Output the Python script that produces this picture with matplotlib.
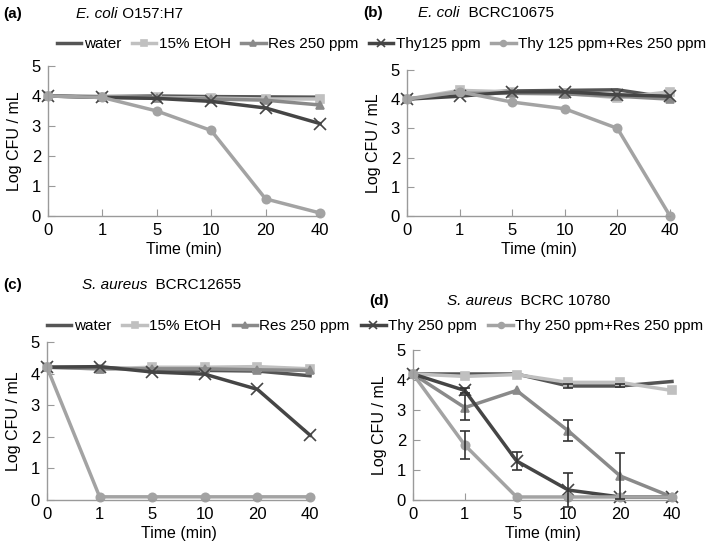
import numpy as np
import matplotlib
matplotlib.use("Agg")
import matplotlib.pyplot as plt

plt.rcParams['font.family'] = ['Liberation Sans', 'DejaVu Sans']

times = ["0", "1", "5", "10", "20", "40"]

# (a) E. coli O157:H7
a_water = [4.0, 3.98, 4.0, 3.98, 3.97, 3.96]
a_etoh = [4.0, 3.97, 3.95, 3.93, 3.9, 3.9]
a_res = [4.0, 3.96, 3.93, 3.9, 3.86, 3.7]
a_thy = [4.0, 3.95, 3.92, 3.82, 3.6, 3.08]
a_mix = [4.0, 3.95, 3.5, 2.85, 0.57, 0.1]

# (b) E. coli BCRC10675
b_water = [4.0, 4.2, 4.28, 4.3, 4.32, 4.05]
b_etoh = [4.0, 4.3, 4.25, 4.2, 4.05, 4.25]
b_res = [4.0, 4.2, 4.2, 4.18, 4.1, 4.0]
b_thy = [4.0, 4.1, 4.25, 4.25, 4.15, 4.1]
b_mix = [4.0, 4.25, 3.9, 3.67, 3.0, 0.0]

# (c) S. aureus BCRC12655
c_water = [4.2, 4.2, 4.12, 4.1, 4.08, 3.93]
c_etoh = [4.2, 4.15, 4.2, 4.2, 4.22, 4.15]
c_res = [4.2, 4.15, 4.15, 4.15, 4.12, 4.1]
c_thy = [4.2, 4.22, 4.05, 3.98, 3.5, 2.05]
c_mix = [4.2, 0.1, 0.1, 0.1, 0.1, 0.1]

# (d) S. aureus BCRC 10780
d_water = [4.2, 4.2, 4.2, 3.8, 3.8, 3.95]
d_etoh = [4.2, 4.12, 4.18, 3.92, 3.92, 3.65]
d_res = [4.2, 3.08, 3.65, 2.3, 0.8, 0.1]
d_thy = [4.2, 3.65, 1.3, 0.33, 0.1, 0.1]
d_mix = [4.2, 1.83, 0.1, 0.1, 0.1, 0.1]
d_water_err = [0, 0, 0, 0.08, 0.05, 0]
d_res_err = [0, 0.42, 0, 0.35, 0.77, 0]
d_thy_err = [0, 0.08, 0.3, 0.58, 0, 0]
d_mix_err = [0, 0.47, 0, 0, 0, 0]

top_labels = ["water", "15% EtOH", "Res 250 ppm", "Thy125 ppm", "Thy 125 ppm+Res 250 ppm"]
bot_labels = ["water", "15% EtOH", "Res 250 ppm", "Thy 250 ppm", "Thy 250 ppm+Res 250 ppm"]

colors = ["#555555", "#c0c0c0", "#8a8a8a", "#454545", "#a3a3a3"]
markers = [None, "s", "^", "x", "o"]
msizes = [0, 6, 6, 8, 6]

fig = plt.figure(figsize=(7.09, 5.49), dpi=100)
ax_a = fig.add_axes([0.0677, 0.6066, 0.3836, 0.2732])
ax_b = fig.add_axes([0.574, 0.6066, 0.371, 0.266])
ax_c = fig.add_axes([0.0663, 0.0893, 0.371, 0.2878])
ax_d = fig.add_axes([0.5825, 0.0893, 0.3653, 0.2732])

x = np.arange(len(times))


def draw(ax, series, labels):
    lines = []
    for s, lab, c, m, ms in zip(series, labels, colors, markers, msizes):
        ln, = ax.plot(x, s, color=c, lw=2.5, marker=m, ms=ms, mew=1.2,
                      label=lab, clip_on=False)
        lines.append(ln)
    ax.set_xlim(0, 5)
    ax.set_ylim(0, 5)
    ax.set_xticks(x)
    ax.set_xticklabels(times)
    ax.set_yticks(range(6))
    for sp in ["top", "right"]:
        ax.spines[sp].set_visible(False)
    for sp in ["left", "bottom"]:
        ax.spines[sp].set_color("#9a9a9a")
        ax.spines[sp].set_linewidth(1.0)
    ax.tick_params(direction="in", length=5, color="#9a9a9a", labelsize=12, pad=5)
    ax.set_xlabel("Time (min)", fontsize=11.5, labelpad=3)
    ax.set_ylabel("Log CFU / mL", fontsize=11.5, labelpad=7)
    return lines


top_lines = draw(ax_a, [a_water, a_etoh, a_res, a_thy, a_mix], top_labels)
draw(ax_b, [b_water, b_etoh, b_res, b_thy, b_mix], top_labels)
draw(ax_c, [c_water, c_etoh, c_res, c_thy, c_mix], bot_labels)
bot_lines = draw(ax_d, [d_water, d_etoh, d_res, d_thy, d_mix], bot_labels)

for s, e in [(d_water, d_water_err), (d_res, d_res_err), (d_thy, d_thy_err), (d_mix, d_mix_err)]:
    s = np.array(s)
    e = np.array(e)
    m = e > 0
    ax_d.errorbar(x[m], s[m], yerr=e[m], fmt="none", ecolor="#333333",
                  elinewidth=1.2, capsize=3.5, capthick=1.2, clip_on=False, zorder=3)

fig.legend(handles=top_lines, loc="center", bbox_to_anchor=(0.538, 0.92), ncol=5,
           frameon=False, fontsize=11, handlelength=1.6, handletextpad=0.15,
           columnspacing=0.7, borderaxespad=0, borderpad=0, markerscale=0.7)
fig.legend(handles=bot_lines, loc="center", bbox_to_anchor=(0.529, 0.406), ncol=5,
           frameon=False, fontsize=11, handlelength=1.6, handletextpad=0.15,
           columnspacing=0.75, borderaxespad=0, borderpad=0, markerscale=0.7)


def make_title(lx, px, py, lab, ital, rest):
    fy = 1 - py / 549
    fig.text(lx / 709, fy, lab, fontsize=11, fontweight="bold", va="center")
    t = fig.text(px / 709, fy, ital, fontsize=11, style="italic", va="center")
    fig.canvas.draw()
    bb = t.get_window_extent()
    fig.text(bb.x1 / fig.bbox.width, fy, rest, fontsize=11, va="center")


make_title(3, 76, 14, "(a)", "E. coli", " O157:H7")
make_title(363, 418, 13, "(b)", "E. coli", "  BCRC10675")
make_title(3, 82, 285, "(c)", "S. aureus", "  BCRC12655")
make_title(369, 447, 301, "(d)", "S. aureus", "  BCRC 10780")

fig.savefig("out.png", dpi=100)
